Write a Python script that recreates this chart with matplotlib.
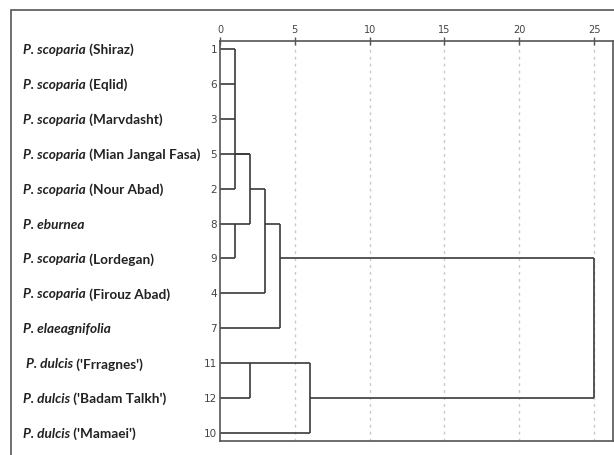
import matplotlib
matplotlib.use('Agg')
import matplotlib.pyplot as plt
import matplotlib.transforms as mtransforms
from matplotlib.patches import Rectangle

# leaf order as drawn, top to bottom
case_ids = [1, 6, 3, 5, 2, 8, 9, 4, 7, 11, 12, 10]
species = ['P. scoparia', 'P. scoparia', 'P. scoparia', 'P. scoparia', 'P. scoparia',
           'P. eburnea', 'P. scoparia', 'P. scoparia', 'P. elaeagnifolia',
           ' P. dulcis', 'P. dulcis', 'P. dulcis']
places = [' (Shiraz)', ' (Eqlid)', ' (Marvdasht)', ' (Mian Jangal Fasa)', ' (Nour Abad)',
          '', ' (Lordegan)', ' (Firouz Abad)', '',
          " ('Frragnes')", " ('Badam Talkh')", " ('Mamaei')"]

# merges: name, rescaled distance, children (leaf row index or merge name), output row
merges = [
    ('A', 1, [0, 1, 2, 4], 3),
    ('B', 1, [5, 6], 5),
    ('C', 2, ['A', 3, 'B'], 4),
    ('D', 3, ['C', 7], 5),
    ('E', 4, ['D', 8], 6),
    ('F', 2, [9, 10], 9),
    ('G', 6, ['F', 11], 10),
    ('H', 25, ['E', 'G'], None),
]
x_ticks = [0, 5, 10, 15, 20, 25]

fig = plt.figure(figsize=(6.14, 4.55), dpi=100)
fig.patches.append(Rectangle((11 / 614, -0.1), 1.2, (455 - 10) / 455 + 0.1,
                             transform=fig.transFigure, fill=False,
                             edgecolor='#555555', linewidth=1.2))

ax = fig.add_axes([220 / 614, 14 / 455, 393 / 614, 400 / 455])
ax.set_xlim(0, 26.27)
ax.set_ylim(11.23, -0.23)

line_kw = dict(color='#3a3a3a', linewidth=1.2, solid_capstyle='butt')
nodes = {}
for name, h, children, out_row in merges:
    rows = []
    for c in children:
        if isinstance(c, str):
            x0, r = nodes[c]
        else:
            x0, r = 0, c
        ax.plot([x0, h], [r, r], **line_kw)
        rows.append(r)
    ax.plot([h, h], [min(rows), max(rows)], **line_kw)
    nodes[name] = (h, out_row)

for t in x_ticks[1:]:
    ax.axvline(t, color='#c8c8c8', linewidth=1, linestyle=(0, (2, 3)), zorder=0)

ax.xaxis.tick_top()
ax.set_xticks(x_ticks)
ax.set_xticklabels([str(t) for t in x_ticks])
ax.tick_params(axis='x', direction='inout', length=6, width=1, color='#555555',
               labelsize=7, labelcolor='#444444', pad=1)
ax.set_yticks(range(len(case_ids)))
ax.set_yticklabels([str(c) for c in case_ids])
ax.tick_params(axis='y', length=0, labelsize=7.5, labelcolor='#444444', pad=2)
for s in ax.spines.values():
    s.set_color('#555555')
    s.set_linewidth(1.2)

trans = mtransforms.blended_transform_factory(fig.transFigure, ax.transData)
fig.canvas.draw()
renderer = fig.canvas.get_renderer()
inv = fig.transFigure.inverted()
for i, (sp, pl) in enumerate(zip(species, places)):
    t = ax.text(23 / 614, i, sp, transform=trans, fontsize=9.8, fontstyle='italic',
                fontweight='bold', family='Lato', color='#222222', va='center_baseline')
    if pl:
        bb = t.get_window_extent(renderer)
        x_end = inv.transform((bb.x1, bb.y0))[0]
        ax.text(x_end, i, pl, transform=trans, fontsize=9.8, fontweight='bold',
                family='Lato', color='#222222', va='center_baseline')

fig.savefig('out.png', dpi=100)
